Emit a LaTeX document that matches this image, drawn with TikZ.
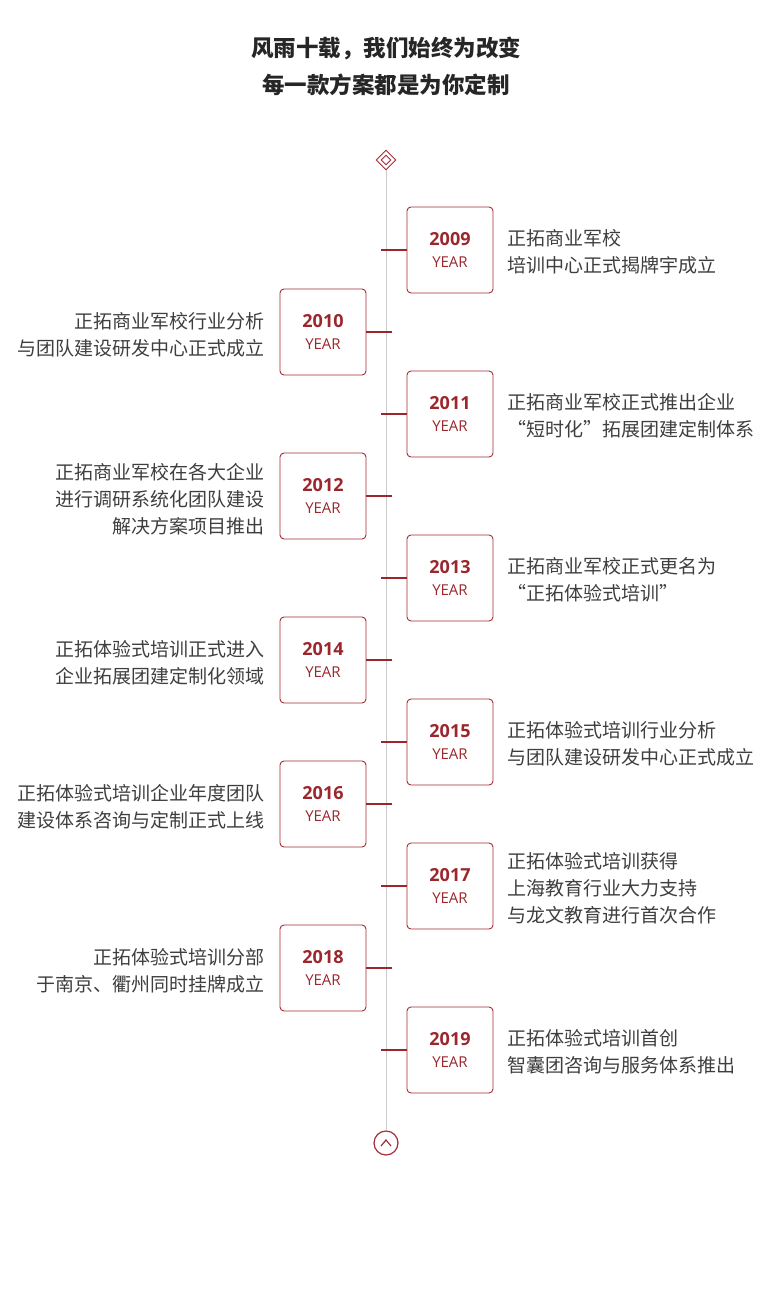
\documentclass[tikz,border=0pt]{standalone}
\usepackage{fontspec}
\usepackage{xcolor}
\usepackage{tikz}
\usetikzlibrary{arrows.meta, positioning, shapes.geometric}
\newfontfamily\cjk{Noto Sans CJK SC}
\newfontfamily\yearfont{Open Sans}

\definecolor{yrred}{RGB}{155,38,44}
\definecolor{boxred}{RGB}{165,42,52}
\definecolor{axisgray}{RGB}{204,204,204}
\definecolor{txtgray}{RGB}{62,62,62}

\tikzset{
  yearbox/.style={draw=boxred, line width=0.9pt, rounded corners=4pt, minimum size=86pt,
    inner sep=0pt, align=center, text=yrred, font=\yearfont\fontsize{15}{22}\selectfont},
  note/.style={text=txtgray, font=\cjk\fontsize{19}{26.8}\selectfont, inner sep=0pt},
  tick/.style={draw=yrred, line width=2pt}
}

\begin{document}
\begin{tikzpicture}[x=1pt, y=-1pt]
    \useasboundingbox (0,0) rectangle (780,1289);

    % Title
    \node[font=\cjk\bfseries\fontsize{22.5}{37}\selectfont, text=black!85, align=center] (title) at (386,66)
        {风雨十载，我们始终为改变\\每一款方案都是为你定制};

    % Timeline ends
    \node[diamond, draw=boxred, line width=0.9pt, minimum size=20pt, inner sep=0pt] (head) at (386,160) {};
    \node[diamond, draw=boxred, line width=0.9pt, minimum size=10pt, inner sep=0pt] at (head.center) {};
    \node[circle, draw=boxred, line width=1.2pt, minimum size=24pt, inner sep=0pt] (foot) at (386,1143) {};
    \draw[boxred, line width=1.2pt] ([shift={(-5,3)}]foot.center) -- ([shift={(0,-3)}]foot.center) -- ([shift={(5,3)}]foot.center);
    \draw[axisgray, line width=1pt] (head.south) -- (foot.north);

    % Right side years
    \foreach \yr/\cy/\txt in {2009/250/{正拓商业军校\\培训中心正式揭牌宇成立},
        2011/414/{正拓商业军校正式推出企业\\“短时化”拓展团建定制体系},
        2013/578/{正拓商业军校正式更名为\\“正拓体验式培训”},
        2015/742/{正拓体验式培训行业分析\\与团队建设研发中心正式成立},
        2017/886/{正拓体验式培训获得\\上海教育行业大力支持\\与龙文教育进行首次合作},
        2019/1050/{正拓体验式培训首创\\智囊团咨询与服务体系推出}} {
        \node[yearbox] (y\yr) at (450,\cy) {{\bfseries\fontsize{18}{22}\selectfont \yr}\\YEAR};
        \coordinate (k\yr) at (381,\cy);
        \draw[tick] (k\yr) -- (y\yr.west);
        \node[note, anchor=west, align=left] (t\yr) at ([xshift=14pt, yshift=-2pt]y\yr.east) {\txt};
    }

    % Left side years
    \foreach \yr/\cy/\txt in {2010/332/{正拓商业军校行业分析\\与团队建设研发中心正式成立},
        2012/496/{正拓商业军校在各大企业\\进行调研系统化团队建设\\解决方案项目推出},
        2014/660/{正拓体验式培训正式进入\\企业拓展团建定制化领域},
        2016/804/{正拓体验式培训企业年度团队\\建设体系咨询与定制正式上线},
        2018/968/{正拓体验式培训分部\\于南京、衢州同时挂牌成立}} {
        \node[yearbox] (y\yr) at (323,\cy) {{\bfseries\fontsize{18}{22}\selectfont \yr}\\YEAR};
        \coordinate (k\yr) at (392,\cy);
        \draw[tick] (y\yr.east) -- (k\yr);
        \node[note, anchor=east, align=right] (t\yr) at ([xshift=-15pt, yshift=-3pt]y\yr.west) {\txt};
    }
\end{tikzpicture}
\end{document}
